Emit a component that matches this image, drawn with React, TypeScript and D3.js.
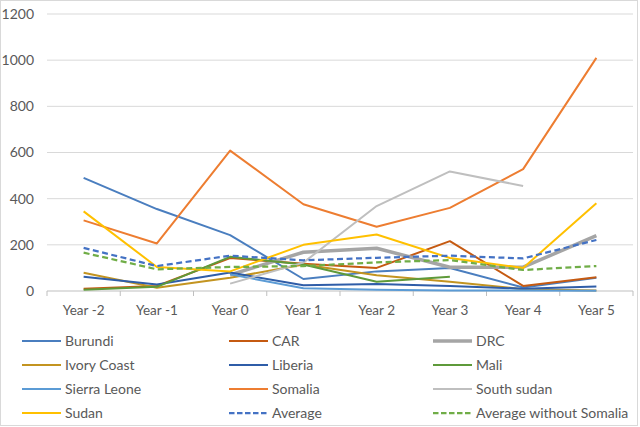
import React from "react";
import * as d3 from "d3";

const categories = ["Year -2", "Year -1", "Year 0", "Year 1", "Year 2", "Year 3", "Year 4", "Year 5"];
const yTicks = [0, 200, 400, 600, 800, 1000, 1200];

const burundi = [490, 355, 242, 52, 85, 100, 15, 57];
const car = [10, 22, 143, 118, 100, 216, 22, 60];
const drc = [null, null, 70, 168, 185, 103, 103, 240];
const ivoryCoast = [79, 14, 57, 115, 68, 40, 8, 2];
const liberia = [62, 28, 80, 25, 30, 22, 10, 19];
const mali = [5, 18, 148, 115, 40, 62, null, null];
const sierraLeone = [null, null, 72, 12, 5, 2, 2, 1];
const somalia = [306, 206, 608, 376, 278, 360, 528, 1010];
const southSudan = [null, null, 32, 123, 368, 518, 455, null];
const sudan = [345, 104, 85, 200, 245, 143, 100, 380];
const average = [187, 108, 153, 133, 144, 153, 141, 221];
const averageNoSomalia = [166, 94, 104, 108, 124, 134, 91, 108];

type S = { name: string; values: (number | null)[]; color: string; width: number; dash?: string };

const series: S[] = [
  { name: "Burundi", values: burundi, color: "#4A7EBF", width: 2 },
  { name: "CAR", values: car, color: "#C55A11", width: 2 },
  { name: "DRC", values: drc, color: "#A5A5A5", width: 3.5 },
  { name: "Ivory Coast", values: ivoryCoast, color: "#C39420", width: 2 },
  { name: "Liberia", values: liberia, color: "#2F5DA8", width: 2 },
  { name: "Mali", values: mali, color: "#5E9A3A", width: 2 },
  { name: "Sierra Leone", values: sierraLeone, color: "#5B9BD5", width: 2 },
  { name: "Somalia", values: somalia, color: "#ED7D31", width: 2 },
  { name: "South sudan", values: southSudan, color: "#BFBFBF", width: 2 },
  { name: "Sudan", values: sudan, color: "#FFC000", width: 2 },
  { name: "Average", values: average, color: "#4472C4", width: 2.25, dash: "6,3.5" },
  { name: "Average without Somalia", values: averageNoSomalia, color: "#70AD47", width: 2.25, dash: "6,3.5" },
];

const font = "Lato, 'Open Sans', sans-serif";

export default function App() {
  const left = 47, right = 633, top = 14, bottom = 291;
  const x = d3.scaleBand<string>().domain(categories).range([left, right]);
  const y = d3.scaleLinear().domain([0, 1200]).range([bottom, top]);
  const cx = (c: string) => (x(c) as number) + x.bandwidth() / 2;
  const line = d3
    .line<number | null>()
    .defined((d) => d != null)
    .x((_, i) => cx(categories[i]))
    .y((d) => y(d as number));

  const legendCols = [22, 229, 433];
  const legendRows = [341, 365, 389, 413];

  return (
    <svg width={640} height={427} style={{ position: "absolute", left: 0, top: 0, background: "#fff" }}>
      <rect x={0.5} y={0.5} width={637} height={425} fill="#fff" stroke="#D9D9D9" strokeWidth={1} />
      {yTicks.map((t) => (
        <g key={t}>
          {t > 0 && <line x1={left} x2={right} y1={y(t)} y2={y(t)} stroke="#D9D9D9" strokeWidth={1} />}
          <text x={34} y={y(t)} dy="0.35em" textAnchor="end" fontFamily={font} fontSize={14} fill="#595959">
            {t}
          </text>
        </g>
      ))}
      <line x1={left} x2={right} y1={bottom} y2={bottom} stroke="#BFBFBF" strokeWidth={1} />
      {d3.range(categories.length + 1).map((i) => {
        const xx = left + i * x.bandwidth();
        return <line key={i} x1={xx} x2={xx} y1={bottom} y2={bottom + 5} stroke="#BFBFBF" strokeWidth={1} />;
      })}
      {categories.map((c) => (
        <text key={c} x={cx(c)} y={315} textAnchor="middle" fontFamily={font} fontSize={13.5} fill="#595959">
          {c}
        </text>
      ))}
      {series.map((s) => (
        <path
          key={s.name}
          d={line(s.values) || ""}
          fill="none"
          stroke={s.color}
          strokeWidth={s.width}
          strokeDasharray={s.dash}
          strokeLinejoin="round"
        />
      ))}
      {series.map((s, i) => {
        const lx = legendCols[i % 3];
        const ly = legendRows[Math.floor(i / 3)];
        return (
          <g key={"l" + s.name}>
            <line x1={lx} x2={lx + 39} y1={ly} y2={ly} stroke={s.color} strokeWidth={s.width} strokeDasharray={s.dash ? "5.5,2.5" : undefined} />
            <text x={lx + 43} y={ly} dy="0.35em" fontFamily={font} fontSize={14} fill="#595959">
              {s.name}
            </text>
          </g>
        );
      })}
    </svg>
  );
}
